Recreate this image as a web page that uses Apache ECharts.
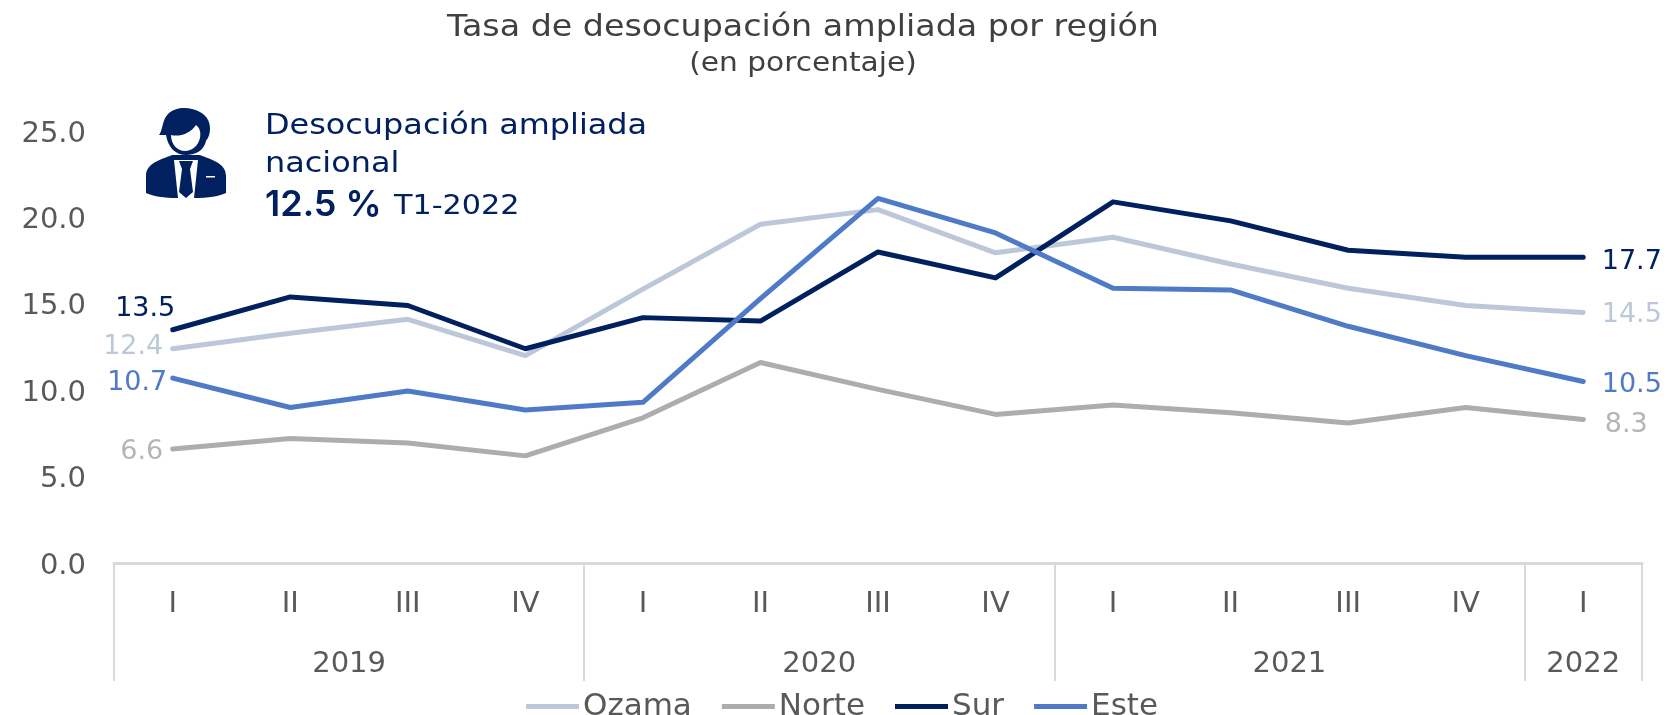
<!DOCTYPE html>
<html><head><meta charset="utf-8">
<style>html,body{margin:0;padding:0;background:#fff}#c{width:1667px;height:715px}</style>
<script src="https://cdn.jsdelivr.net/npm/echarts@6/dist/echarts.min.js"></script>
</head><body><div id="c"></div>
<script>
const quarters = ['I','II','III','IV','I','II','III','IV','I','II','III','IV','I'];
const years = ['2019','2020','2021','2022'];
const yearSpans = [4,4,4,1];
const ozama = [12.4,13.3,14.1,12.0,15.85,19.6,20.45,17.95,18.85,17.3,15.9,14.9,14.5];
const norte = [6.6,7.2,6.95,6.2,8.4,11.6,10.05,8.6,9.15,8.7,8.1,9.0,8.3];
const sur = [13.5,15.4,14.9,12.4,14.2,14.0,18.0,16.5,20.9,19.8,18.1,17.7,17.7];
const este = [10.7,9.0,9.95,8.85,9.3,15.3,21.1,19.1,15.9,15.8,13.7,12.0,10.5];

const NAVY='#002060', FONT='"DejaVu Sans", sans-serif', FS=29, TXT='#595959';
const yearEdges=[0]; yearSpans.forEach(s=>yearEdges.push(yearEdges[yearEdges.length-1]+s));
const yearMids=yearSpans.map((s,i)=>yearEdges[i]+s/2);

const iconShapes={
  body:'M26 47 C14 52 0 55 0 68 L0 85 C6 88 18 90 32 90 L48 90 C62 90 74 88 80 85 L80 68 C80 55 66 52 54 47 Z',
  shirt:'M28 52 L52 52 L48 90 L32 90 Z',
  tie:'M33 53 L47 53 L44 61 L47 84 L40 90 L33 84 L36 61 Z',
  hair:'M13 27 C17 22 16 12 22 6 C28 0 38 -1 46 1 C56 3 64 10 64 20 C64 27 62 30 60 33 C58 42 50 47 40 47 C30 47 22 40 20 27 Z',
  face:'M25 27 C33 29 44 26 50 17 C54 20 55 25 54 30 C52 38 46 43 39 43 C31 43 25 36 25 27 Z'
};
Object.keys(iconShapes).forEach(k=>echarts.graphic.registerShape('icon_'+k,echarts.graphic.extendPath(iconShapes[k],{})));

function mk(name,vals,color,lblColor,offL,offR){
  const common={show:true,distance:0,color:lblColor,fontFamily:FONT,fontSize:27,formatter:p=>p.value.toFixed(1)};
  return {name,type:'line',data:vals.map((v,i)=>{
      if(i===0) return {value:v,label:Object.assign({position:'left',offset:offL},common)};
      if(i===vals.length-1) return {value:v,label:Object.assign({position:'right',offset:offR},common)};
      return v;}),
    showSymbol:true,symbol:'circle',symbolSize:1,smooth:false,lineStyle:{color,width:5,cap:'round',join:'round'},itemStyle:{color},
    emphasis:{disabled:true},z:3,animation:false};
}
const chart=echarts.init(document.getElementById('c'),null,{renderer:'canvas'});
chart.setOption({
  animation:false,backgroundColor:'#fff',
  grid:{left:114,right:25,top:131,bottom:152,containLabel:false},
  legend:{left:521,top:686,icon:'rect',itemWidth:53,itemHeight:5,itemGap:30,textStyle:{fontFamily:FONT,fontSize:31,color:TXT,padding:[0,0,0,-1]},
    data:['Ozama','Norte','Sur','Este']},
  xAxis:[
    {type:'category',data:quarters,boundaryGap:true,position:'bottom',
     axisLine:{show:true,lineStyle:{color:'#d9d9d9',width:3}},axisTick:{show:false},
     axisLabel:{interval:0,margin:27,color:TXT,fontFamily:FONT,fontSize:FS}},
    {type:'value',min:0,max:13,position:'bottom',splitLine:{show:false},
     axisLine:{show:false},
     axisTick:{show:true,length:118,customValues:yearEdges,lineStyle:{color:'#d9d9d9',width:2}},
     axisLabel:{show:true,margin:87,customValues:yearMids,color:TXT,fontFamily:FONT,fontSize:FS,
       formatter:v=>years[yearMids.indexOf(v)]}}
  ],
  yAxis:{type:'value',min:0,max:25,interval:5,axisLine:{show:false},axisTick:{show:false},splitLine:{show:false},
    axisLabel:{margin:28,color:TXT,fontFamily:FONT,fontSize:FS,
      formatter:v=>'{a|'+v.toFixed(1)+'}',rich:{a:{color:TXT,fontFamily:FONT,fontSize:FS,padding:[6,0,0,0]}}}},
  series:[
    mk('Ozama',ozama,'#bcc8da','#bcc8da',[-9,-2],[18,3]),
    mk('Norte',norte,'#adadad','#b5b5b5',[-9,3],[21,5]),
    mk('Sur',sur,NAVY,NAVY,[3,-21],[18,5]),
    mk('Este',este,'#4f7ac7','#4f7ac7',[-5,5],[18,3])
  ],
  graphic:[
    {type:'text',x:803,y:28,scaleX:1.11,silent:true,style:{text:'Tasa de desocupación ampliada por región',align:'center',verticalAlign:'middle',fill:'#404040',font:'400 30px '+FONT}},
    {type:'text',x:803,y:64,scaleX:1.14,silent:true,style:{text:'(en porcentaje)',align:'center',verticalAlign:'middle',fill:'#404040',font:'400 26px '+FONT}},
    {type:'group',x:146,y:108,silent:true,children:[
      {type:'icon_body',style:{fill:NAVY}},
      {type:'icon_shirt',style:{fill:'#fff'}},
      {type:'icon_tie',style:{fill:NAVY}},
      {type:'rect',shape:{x:60,y:68,width:9,height:1.5},style:{fill:'#fff'}},
      {type:'icon_hair',style:{fill:NAVY}},
      {type:'icon_face',style:{fill:'#fff'}}
    ]},
    {type:'text',x:265,y:126,scaleX:1.10,silent:true,style:{text:'Desocupación ampliada',verticalAlign:'middle',fill:NAVY,font:'400 29px '+FONT}},
    {type:'text',x:265,y:164,scaleX:1.10,silent:true,style:{text:'nacional',verticalAlign:'middle',fill:NAVY,font:'400 29px '+FONT}},
    {type:'text',x:265,y:205,silent:true,style:{text:'12.5 %',verticalAlign:'middle',fill:NAVY,font:'600 36px Inter, sans-serif'}},
    {type:'text',x:394,y:207,scaleX:1.12,silent:true,style:{text:'T1-2022',verticalAlign:'middle',fill:NAVY,font:'400 27px '+FONT}}
  ]
});
</script></body></html>
